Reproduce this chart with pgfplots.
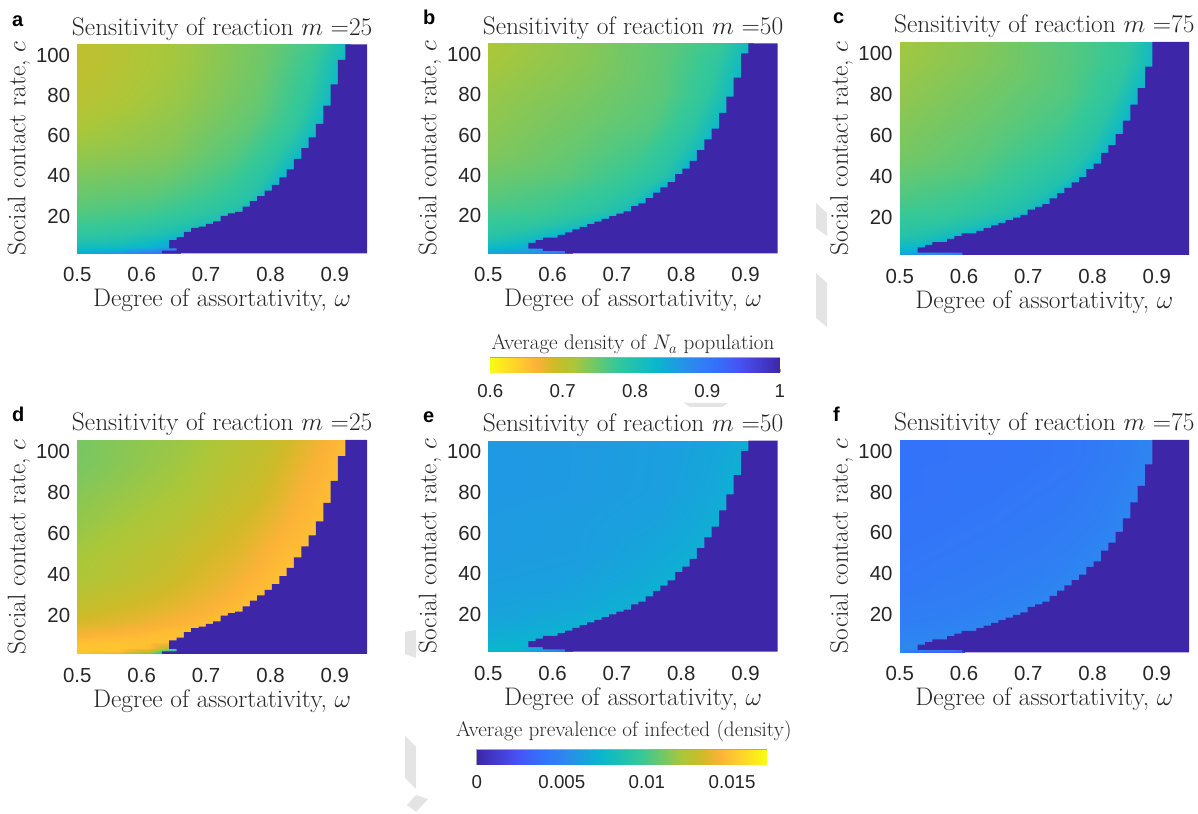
\documentclass[border=0pt]{standalone}
\usepackage{fix-cm}
\usepackage{fontspec}
\usepackage{pgfplots}
\usepackage{pgfplotstable}
\pgfplotsset{compat=1.18}
\newfontfamily\arial{Liberation Sans}
\definecolor{dk}{RGB}{62,38,168}
\definecolor{tk}{RGB}{38,38,38}
\definecolor{wm}{RGB}{228,228,228}
\newcommand\labfont{\fontsize{25.4}{30}\selectfont}
\newcommand\tickfont{\arial\fontsize{20.4}{24}\selectfont}
\newcommand\barfont{\arial\fontsize{18.7}{22}\selectfont}
\newcommand\letterfont{\arial\bfseries\fontsize{20}{24}\selectfont}
\pgfplotsset{
 colormap={par}{[1pt] rgb255(0pt)=(62,38,168) rgb255(14pt)=(72,82,244) rgb255(22pt)=(52,112,250) rgb255(30pt)=(45,135,240) rgb255(43pt)=(8,184,204) rgb255(57pt)=(55,200,150) rgb255(71pt)=(171,199,57) rgb255(78pt)=(208,186,40) rgb255(84pt)=(252,178,56) rgb255(90pt)=(255,205,45) rgb255(100pt)=(249,251,20)},
 colormap={parR}{[1pt] rgb255(0pt)=(249,251,20) rgb255(10pt)=(255,205,45) rgb255(16pt)=(252,178,56) rgb255(22pt)=(208,186,40) rgb255(29pt)=(171,199,57) rgb255(43pt)=(55,200,150) rgb255(57pt)=(8,184,204) rgb255(70pt)=(45,135,240) rgb255(78pt)=(52,112,250) rgb255(86pt)=(72,82,244) rgb255(100pt)=(62,38,168)},
 panel/.style={scale only axis, xmin=.5, xmax=.95, ymin=1, ymax=105,
  xtick={.5,.6,.7,.8,.9}, xticklabels={0.5,0.6,0.7,0.8,0.9},
  ytick={20,40,60,80,100}, yticklabels={20,40,60,80,100},
  axis line style={draw=none}, major tick length=0pt,
  tick label style={font=\tickfont, text=tk, inner sep=0pt},
  xticklabel style={yshift=-14pt}, yticklabel style={xshift=-7pt,yshift=-1pt},
  title style={font=\labfont, text=tk, anchor=base, at={(axis description cs:.5,1)}, yshift=3pt, inner sep=0pt},
  xlabel style={font=\labfont, text=tk, anchor=base, at={(axis description cs:.5,0)}, yshift=-53.5pt, inner sep=0pt},
  ylabel style={font=\labfont, text=tk, anchor=base, at={(axis description cs:-.1795,.5)}, inner sep=0pt},
  xlabel={Degree of assortativity, $\omega$}, ylabel={Social contact rate, $c$}},
 top/.style={panel, colormap name=parR, point meta min=.6, point meta max=1},
 bot/.style={panel, colormap name=par, point meta min=0, point meta max=.017},
 cbar/.style={scale only axis, width=289.4pt, ymin=0, ymax=1, ytick=\empty,
  axis line style={draw=black!35, line width=.5pt}, tick align=inside, xtick pos=lower,
  major tick length=3pt, tick style={draw=black!35, line width=.4pt}, scaled x ticks=false,
  tick label style={font=\barfont, text=tk, inner sep=0pt},
  title style={font=\fontsize{21.1}{26}\selectfont, text=tk, anchor=base, at={(axis description cs:.5,1)}, inner sep=0pt}},
}
% mesh: five points per row of c, the last one just past the edge of the occupied region
\pgfplotstableread[row sep=\\]{
x y va vd\\
.5 1 .84 .0150\\ .564 1 .86 .0140\\ .612 1 .90 .0100\\ .6408 1 .91 .0075\\ .66 1 .91 .0075\\
.5 2.5 .83 .0150\\ .564 2.5 .84 .0148\\ .612 2.5 .865 .0130\\ .6408 2.5 .89 .0090\\ .66 2.5 .90 .0075\\
.5 4 .815 .0150\\ .564 4 .82 .0150\\ .612 4 .83 .0148\\ .6408 4 .845 .0125\\ .66 4 .855 .0100\\
.5 7 .795 .0148\\ .564 7 .80 .0149\\ .612 7 .815 .0149\\ .6408 7 .83 .0148\\ .66 7 .845 .0145\\
.5 11 .78 .0141\\ .576 11 .785 .0144\\ .633 11 .80 .0147\\ .6672 11 .815 .0149\\ .69 11 .84 .0149\\
.5 16 .768 .0134\\ .594 16 .775 .0139\\ .6645 16 .79 .0144\\ .7068 16 .805 .0147\\ .735 16 .84 .0149\\
.5 22 .757 .0130\\ .61 22 .765 .0136\\ .6925 22 .78 .0142\\ .742 22 .795 .0147\\ .775 22 .84 .0149\\
.5 30 .748 .0125\\ .6224 30 .755 .0132\\ .7142 30 .772 .0140\\ .7693 30 .79 .0146\\ .806 30 .835 .0149\\
.5 40 .738 .0121\\ .6328 40 .745 .0129\\ .7324 40 .765 .0138\\ .7922 40 .788 .0145\\ .832 40 .835 .0149\\
.5 52 .725 .0119\\ .6432 52 .735 .0127\\ .7506 52 .758 .0136\\ .815 52 .783 .0145\\ .858 52 .83 .0148\\
.5 65 .715 .0116\\ .6536 65 .73 .0124\\ .7688 65 .752 .0134\\ .8379 65 .778 .0144\\ .884 65 .83 .0148\\
.5 80 .705 .0113\\ .6612 80 .725 .0121\\ .7821 80 .748 .0131\\ .8546 80 .778 .0143\\ .903 80 .825 .0148\\
.5 95 .70 .0110\\ .666 95 .722 .0119\\ .7905 95 .746 .0129\\ .8652 95 .773 .0141\\ .915 95 .825 .0148\\
.5 105 .70 .0110\\ .67 105 .722 .0118\\ .7975 105 .746 .0128\\ .874 105 .77 .0140\\ .925 105 .82 .0148\\
}\gridA
\pgfplotstableread[row sep=\\]{
x y vb ve\\
.5 1 .845 .0073\\ .552 1 .86 .0070\\ .591 1 .885 .0045\\ .6144 1 .90 .0036\\ .63 1 .90 .0035\\
.5 2.5 .84 .0073\\ .552 2.5 .85 .0072\\ .591 2.5 .875 .0062\\ .6144 2.5 .89 .0045\\ .63 2.5 .89 .0040\\
.5 4 .825 .0072\\ .536 4 .83 .0072\\ .563 4 .84 .0072\\ .5792 4 .85 .0072\\ .59 4 .86 .0070\\
.5 7 .80 .0069\\ .536 7 .81 .0070\\ .563 7 .82 .0071\\ .5792 7 .835 .0072\\ .59 7 .85 .0072\\
.5 11 .785 .0067\\ .552 11 .795 .0068\\ .591 11 .81 .0069\\ .6144 11 .825 .0071\\ .63 11 .84 .0072\\
.5 16 .775 .0065\\ .5696 16 .78 .0066\\ .6218 16 .795 .0068\\ .6531 16 .81 .0070\\ .674 16 .84 .0071\\
.5 22 .765 .0063\\ .592 22 .77 .0065\\ .661 22 .785 .0067\\ .7024 22 .80 .0069\\ .73 22 .84 .0071\\
.5 30 .755 .0062\\ .6056 30 .765 .0063\\ .6848 30 .778 .0066\\ .7323 30 .795 .0068\\ .764 30 .84 .0071\\
.5 40 .745 .0061\\ .6232 40 .755 .0062\\ .7156 40 .772 .0065\\ .771 40 .79 .0068\\ .808 40 .835 .0070\\
.5 52 .735 .0060\\ .636 52 .75 .0061\\ .738 52 .765 .0064\\ .7992 52 .79 .0067\\ .84 52 .83 .0070\\
.5 65 .73 .0060\\ .646 65 .745 .0061\\ .7555 65 .758 .0063\\ .8212 65 .785 .0066\\ .865 65 .83 .0070\\
.5 80 .725 .0059\\ .6548 80 .74 .0060\\ .7709 80 .755 .0062\\ .8406 80 .78 .0065\\ .887 80 .825 .0070\\
.5 95 .718 .0059\\ .66 95 .735 .0060\\ .78 95 .755 .0062\\ .852 95 .778 .0065\\ .9 95 .825 .0070\\
.5 105 .715 .0059\\ .6648 105 .735 .0060\\ .7884 105 .755 .0062\\ .8626 105 .773 .0065\\ .912 105 .825 .0070\\
}\gridB
\pgfplotstableread[row sep=\\]{
x y vc vf\\
.5 1 .85 .0052\\ .54 1 .88 .0032\\ .57 1 .895 .0028\\ .588 1 .90 .0028\\ .6 1 .90 .0028\\
.5 2.5 .84 .0052\\ .54 2.5 .85 .0052\\ .57 2.5 .87 .0048\\ .588 2.5 .89 .0032\\ .6 2.5 .895 .0028\\
.5 4 .83 .0052\\ .516 4 .83 .0052\\ .528 4 .835 .0052\\ .5352 4 .84 .0052\\ .54 4 .85 .0052\\
.5 7 .81 .0050\\ .5288 7 .815 .0050\\ .5504 7 .825 .0051\\ .5634 7 .835 .0052\\ .572 7 .85 .0052\\
.5 11 .79 .0048\\ .5464 11 .80 .0049\\ .5812 11 .815 .0050\\ .6021 11 .83 .0051\\ .616 11 .845 .0052\\
.5 16 .78 .0046\\ .5648 16 .785 .0047\\ .6134 16 .80 .0049\\ .6426 16 .815 .0050\\ .662 16 .845 .0052\\
.5 22 .77 .0045\\ .586 22 .775 .0046\\ .6505 22 .79 .0048\\ .6892 22 .803 .0050\\ .715 22 .84 .0052\\
.5 30 .76 .0043\\ .6016 30 .77 .0045\\ .6778 30 .785 .0047\\ .7235 30 .80 .0049\\ .754 30 .84 .0052\\
.5 40 .75 .0042\\ .6192 40 .76 .0044\\ .7086 40 .78 .0046\\ .7622 40 .795 .0049\\ .798 40 .84 .0052\\
.5 52 .74 .0041\\ .6328 52 .755 .0043\\ .7324 52 .772 .0045\\ .7922 52 .793 .0048\\ .832 52 .835 .0051\\
.5 65 .735 .0040\\ .6432 65 .75 .0042\\ .7506 65 .765 .0044\\ .815 65 .788 .0047\\ .858 65 .835 .0051\\
.5 80 .728 .0039\\ .652 80 .745 .0041\\ .766 80 .76 .0043\\ .8344 80 .783 .0047\\ .88 80 .83 .0051\\
.5 95 .722 .0039\\ .6592 95 .74 .0040\\ .7786 95 .76 .0042\\ .8502 95 .778 .0046\\ .898 95 .825 .0051\\
.5 105 .72 .0039\\ .6608 105 .74 .0040\\ .7814 105 .76 .0042\\ .8538 105 .778 .0046\\ .902 105 .825 .0051\\
}\gridC
% unoccupied (dark) region, stepped edge
\pgfplotstableread[row sep=\\]{
x y\\
.95 105\\ .9163 105\\ .9163 97.2\\ .9049 97.2\\ .9049 85.1\\ .8935 85.1\\ .8935 74.5\\ .8821 74.5\\ .8821 65.4\\ .8707 65.4\\ .8707 58.7\\ .8593 58.7\\ .8593 53.3\\ .8479 53.3\\ .8479 48.0\\ .8365 48.0\\ .8365 42.8\\ .8251 42.8\\ .8251 38.8\\ .8137 38.8\\ .8137 35.0\\ .8023 35.0\\ .8023 32.2\\ .7909 32.2\\ .7909 29.5\\ .7795 29.5\\ .7795 26.9\\ .7681 26.9\\ .7681 24.2\\ .7567 24.2\\ .7567 21.6\\ .7453 21.6\\ .7453 20.9\\ .7339 20.9\\ .7339 19.6\\ .7225 19.6\\ .7225 16.9\\ .7111 16.9\\ .7111 15.6\\ .6997 15.6\\ .6997 14.3\\ .6883 14.3\\ .6883 13.6\\ .6769 13.6\\ .6769 11.6\\ .6655 11.6\\ .6655 9.0\\ .6541 9.0\\ .6541 7.6\\ .6427 7.6\\ .6427 3.5\\ .6541 3.5\\ .6541 2.3\\ .6313 2.3\\ .6313 1\\ .95 1\\
}\stairA
\pgfplotstableread[row sep=\\]{
x y\\
.95 105\\ .9044 105\\ .9044 100\\ .8930 100\\ .8930 88\\ .8816 88\\ .8816 78.6\\ .8702 78.6\\ .8702 70.6\\ .8588 70.6\\ .8588 62.7\\ .8473 62.7\\ .8473 57.4\\ .8359 57.4\\ .8359 52.1\\ .8245 52.1\\ .8245 46.8\\ .8131 46.8\\ .8131 42.9\\ .8017 42.9\\ .8017 40.2\\ .7903 40.2\\ .7903 36.2\\ .7789 36.2\\ .7789 33.6\\ .7675 33.6\\ .7675 31\\ .7561 31\\ .7561 28.3\\ .7447 28.3\\ .7447 25.7\\ .7333 25.7\\ .7333 24.3\\ .7219 24.3\\ .7219 21.7\\ .7105 21.7\\ .7105 20.7\\ .6991 20.7\\ .6991 19.4\\ .6877 19.4\\ .6877 18.1\\ .6763 18.1\\ .6763 16.7\\ .6649 16.7\\ .6649 15.4\\ .6535 15.4\\ .6535 14.1\\ .6421 14.1\\ .6421 12.8\\ .6307 12.8\\ .6307 11.4\\ .6193 11.4\\ .6193 10.1\\ .6078 10.1\\ .6078 8.8\\ .5850 8.8\\ .5850 7.5\\ .5736 7.5\\ .5736 6.2\\ .5622 6.2\\ .5622 3.3\\ .5850 3.3\\ .5850 2.2\\ .6193 2.2\\ .6193 1\\ .95 1\\
}\stairB
\pgfplotstableread[row sep=\\]{
x y\\
.95 105\\ .8930 105\\ .8930 93\\ .8816 93\\ .8816 82.5\\ .8701 82.5\\ .8701 74.4\\ .8587 74.4\\ .8587 66.6\\ .8473 66.6\\ .8473 60\\ .8359 60\\ .8359 54.7\\ .8245 54.7\\ .8245 50.8\\ .8131 50.8\\ .8131 45.6\\ .8017 45.6\\ .8017 42.9\\ .7903 42.9\\ .7903 39\\ .7789 39\\ .7789 36.4\\ .7675 36.4\\ .7675 33.8\\ .7561 33.8\\ .7561 31.2\\ .7447 31.2\\ .7447 28.6\\ .7333 28.6\\ .7333 25.8\\ .7219 25.8\\ .7219 24.5\\ .7105 24.5\\ .7105 23.2\\ .6991 23.2\\ .6991 20.6\\ .6877 20.6\\ .6877 19.3\\ .6763 19.3\\ .6763 18\\ .6649 18\\ .6649 16.7\\ .6535 16.7\\ .6535 15.4\\ .6421 15.4\\ .6421 14.1\\ .6307 14.1\\ .6307 12.8\\ .6193 12.8\\ .6193 11.5\\ .5964 11.5\\ .5964 10.2\\ .5850 10.2\\ .5850 8.9\\ .5736 8.9\\ .5736 7.3\\ .5508 7.3\\ .5508 6\\ .5394 6\\ .5394 4.7\\ .5280 4.7\\ .5280 2.2\\ .5975 2.2\\ .5975 1\\ .95 1\\
}\stairC
\begin{document}
\begin{tikzpicture}[x=1pt,y=1pt]
\useasboundingbox (0,0) rectangle (1198,813);
% faint grey marks present on the page
\fill[wm] (816,610)--(827,600)--(827,577)--(816,585)--cycle;
\fill[wm] (816,540)--(827,530)--(827,486)--(816,495)--cycle;
\fill[wm] (684,410)--(728,410)--(722,406)--(690,406)--cycle;
\fill[wm] (405,181)--(416,183)--(416,155)--(405,159)--cycle;
\fill[wm] (405,77)--(416,66)--(416,24)--(405,35)--cycle;
\fill[wm] (416,18)--(428,14)--(416,1)--(407,8)--cycle;

\begin{axis}[top, at={(77.3pt,559.7pt)}, anchor=south west, width=289.7pt, height=209pt,
  title={Sensitivity of reaction $m$ =25}]
\addplot[surf, shader=interp, mesh/cols=5, point meta=explicit] table[x=x,y=y,meta=va] {\gridA};
\addplot[draw=none, fill=dk] table[x=x,y=y] {\stairA};
\end{axis}
\begin{axis}[top, at={(488.3pt,559.7pt)}, anchor=south west, width=289.4pt, height=210pt,
  title={Sensitivity of reaction $m$ =50}]
\addplot[surf, shader=interp, mesh/cols=5, point meta=explicit] table[x=x,y=y,meta=vb] {\gridB};
\addplot[draw=none, fill=dk] table[x=x,y=y] {\stairB};
\end{axis}
\begin{axis}[top, at={(899.7pt,558pt)}, anchor=south west, width=289.3pt, height=213pt,
  title={Sensitivity of reaction $m$ =75}]
\addplot[surf, shader=interp, mesh/cols=5, point meta=explicit] table[x=x,y=y,meta=vc] {\gridC};
\addplot[draw=none, fill=dk] table[x=x,y=y] {\stairC};
\end{axis}
\begin{axis}[bot, at={(77.3pt,159pt)}, anchor=south west, width=289.7pt, height=214pt,
  title={Sensitivity of reaction $m$ =25}]
\addplot[surf, shader=interp, mesh/cols=5, point meta=explicit] table[x=x,y=y,meta=vd] {\gridA};
\addplot[draw=none, fill=dk] table[x=x,y=y] {\stairA};
\end{axis}
\begin{axis}[bot, at={(488.3pt,161.3pt)}, anchor=south west, width=289.4pt, height=211pt,
  title={Sensitivity of reaction $m$ =50}]
\addplot[surf, shader=interp, mesh/cols=5, point meta=explicit] table[x=x,y=y,meta=ve] {\gridB};
\addplot[draw=none, fill=dk] table[x=x,y=y] {\stairB};
\end{axis}
\begin{axis}[bot, at={(899.7pt,160.7pt)}, anchor=south west, width=289.3pt, height=212.3pt,
  title={Sensitivity of reaction $m$ =75}]
\addplot[surf, shader=interp, mesh/cols=5, point meta=explicit] table[x=x,y=y,meta=vf] {\gridC};
\addplot[draw=none, fill=dk] table[x=x,y=y] {\stairC};
\end{axis}

\begin{axis}[cbar, at={(490.3pt,440.7pt)}, anchor=south west, height=14.6pt,
  xmin=.6, xmax=1, xtick={.6,.7,.8,.9,1}, xticklabels={0.6,0.7,0.8,0.9,1},
  colormap name=parR, point meta min=.6, point meta max=1, xticklabel style={yshift=-12pt},
  title style={yshift=1.7pt, xshift=-2pt}, title={Average density of $N_a$ population}]
\addplot[surf, shader=interp, mesh/cols=2, point meta=explicit] table[x=x,y=y,meta=v] {
x y v
.6 0 .6
1 0 1
.6 1 .6
1 1 1
};
\end{axis}
\begin{axis}[cbar, at={(476.7pt,48.3pt)}, anchor=south west, height=15pt,
  xmin=0, xmax=.017, xtick={0,.005,.01,.015}, xticklabels={0,0.005,0.01,0.015},
  colormap name=par, point meta min=0, point meta max=.017, xticklabel style={yshift=-10.5pt},
  title style={yshift=6.7pt, xshift=2.5pt}, title={Average prevalence of infected (density)}]
\addplot[surf, shader=interp, mesh/cols=2, point meta=explicit] table[x=x,y=y,meta=v] {
x y v
0 0 0
.017 0 .017
0 1 0
.017 1 .017
};
\end{axis}

\node[anchor=base west, inner sep=0, font=\letterfont, text=black] at (12,786) {a};
\node[anchor=base west, inner sep=0, font=\letterfont, text=black] at (423,788) {b};
\node[anchor=base west, inner sep=0, font=\letterfont, text=black] at (833,789) {c};
\node[anchor=base west, inner sep=0, font=\letterfont, text=black] at (12,391) {d};
\node[anchor=base west, inner sep=0, font=\letterfont, text=black] at (423,390) {e};
\node[anchor=base west, inner sep=0, font=\letterfont, text=black] at (833,391) {f};
\end{tikzpicture}
\end{document}
